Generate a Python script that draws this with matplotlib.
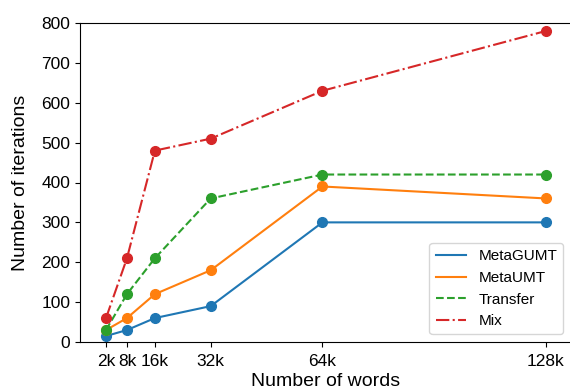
import matplotlib
matplotlib.use("Agg")
import matplotlib.pyplot as plt
from matplotlib.lines import Line2D

# Daten
woerter = [2, 8, 16, 32, 64, 128]
tick_labels = ["2k", "8k", "16k", "32k", "64k", "128k"]
meta_gumt = [15, 30, 60, 90, 300, 300]
meta_umt = [30, 60, 120, 180, 390, 360]
transfer = [30, 120, 210, 360, 420, 420]
mix = [60, 210, 480, 510, 630, 780]

plt.rcParams["font.family"] = ["Liberation Sans", "DejaVu Sans"]

fig = plt.figure(figsize=(5.7, 3.91), dpi=100)
ax = fig.add_axes([80 / 570, 49 / 391, 491 / 570, 319 / 391])

serien = [
    (meta_gumt, "tab:blue", "-", "MetaGUMT"),
    (meta_umt, "tab:orange", "-", "MetaUMT"),
    (transfer, "tab:green", "--", "Transfer"),
    (mix, "tab:red", "-.", "Mix"),
]
handles = []
for werte, farbe, stil, name in serien:
    ax.plot(woerter, werte, ls=stil, marker="o", color=farbe, lw=1.5, ms=7)
    handles.append(Line2D([], [], ls=stil, color=farbe, lw=1.5, label=name))

ax.set_xlim(-5.45, 135.2)
ax.set_ylim(0, 800)
ax.set_xticks(woerter)
ax.set_xticklabels(tick_labels)
ax.set_yticks(range(0, 801, 100))
ax.tick_params(labelsize=12.5)
ax.tick_params(axis="x", pad=5)
ax.set_xlabel("Number of words", fontsize=14, labelpad=3)
ax.set_ylabel("Number of iterations", fontsize=14, labelpad=9)
ax.legend(handles=handles, loc="lower right", fontsize=11)

fig.savefig("out.png", dpi=100)
